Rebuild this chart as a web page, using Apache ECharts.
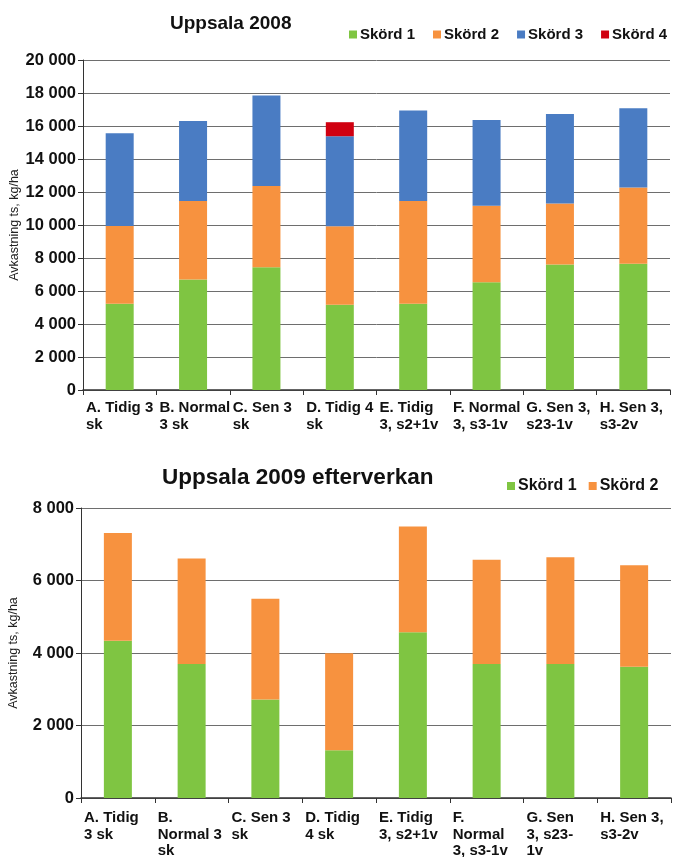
<!DOCTYPE html>
<html>
<head>
<meta charset="utf-8">
<title>Uppsala 2008 / 2009</title>
<script src="https://cdn.jsdelivr.net/npm/echarts@6/dist/echarts.min.js"></script>
<style>
  html, body { margin: 0; padding: 0; background: #ffffff; }
  #chart { width: 675px; height: 857px; }
</style>
</head>
<body>
<div id="chart"></div>
<script>
// Avkastning, kg ts/ha, per skörd och behandling

const categories2008 = [
  'A. Tidig 3\nsk', 'B. Normal\n3 sk', 'C. Sen 3\nsk', 'D. Tidig 4\nsk',
  'E. Tidig\n3, s2+1v', 'F. Normal\n3, s3-1v', 'G. Sen 3,\ns23-1v', 'H. Sen 3,\ns3-2v'
];
const skord1_2008 = [5230, 6690, 7440, 5170, 5230, 6530, 7610, 7650];
const skord2_2008 = [4710, 4770, 4930, 4750, 6230, 4630, 3690, 4620];
const skord3_2008 = [5620, 4850, 5480, 5460, 5480, 5210, 5430, 4810];
const skord4_2008 = [0, 0, 0, 850, 0, 0, 0, 0];
const ticks2008 = [0, 2000, 4000, 6000, 8000, 10000, 12000, 14000, 16000, 18000, 20000];

const categories2009 = [
  'A. Tidig\n3 sk', 'B.\nNormal 3\nsk', 'C. Sen 3\nsk', 'D. Tidig\n4 sk',
  'E. Tidig\n3, s2+1v', 'F.\nNormal\n3, s3-1v', 'G. Sen\n3, s23-\n1v', 'H. Sen 3,\ns3-2v'
];
const skord1_2009 = [4340, 3700, 2720, 1320, 4570, 3700, 3700, 3620];
const skord2_2009 = [2970, 2910, 2780, 2670, 2920, 2870, 2940, 2800];
const ticks2009 = [0, 2000, 4000, 6000, 8000];

const FONT = '"Liberation Sans", Arial, sans-serif';
const COLORS = { s1: '#7fc542', s2: '#f7923f', s3: '#4a7cc3', s4: '#d00010' };

const fmt = v => {
  const s = String(Math.round(v));
  return s.replace(/\B(?=(\d{3})+(?!\d))/g, ' ');
};

function valueAxis(gridIndex, ticks, nameGap) {
  return {
    type: 'value',
    gridIndex: gridIndex,
    min: ticks[0],
    max: ticks[ticks.length - 1],
    interval: ticks[1] - ticks[0],
    name: 'Avkastning ts, kg/ha',
    nameLocation: 'middle',
    nameGap: nameGap,
    nameMoveOverlap: false,
    nameTextStyle: { fontFamily: FONT, fontSize: 12.5, color: '#222' },
    axisLine: { show: true, lineStyle: { color: '#333', width: 1 } },
    axisTick: { show: true, length: 5, lineStyle: { color: '#333' } },
    axisLabel: {
      fontFamily: FONT, fontSize: 16.5, fontWeight: 'bold', color: '#111',
      margin: 7, formatter: fmt
    },
    splitLine: { show: true, lineStyle: { color: '#6e6e6e', width: 1 } }
  };
}

function barAxis(gridIndex, cats) {
  return {
    type: 'category',
    gridIndex: gridIndex,
    data: cats,
    boundaryGap: true,
    axisLine: { show: true, lineStyle: { color: '#333', width: 1.5 } },
    axisTick: { show: true, length: 5, interval: 0, lineStyle: { color: '#333' } },
    axisLabel: { show: false },
    splitLine: { show: false }
  };
}

// Second category axis whose ticks sit on the category boundaries,
// so the wrapped labels start at the left edge of each category.
function labelAxis(gridIndex, cats, margin) {
  return {
    type: 'category',
    gridIndex: gridIndex,
    data: cats.concat(['']),
    boundaryGap: false,
    position: 'bottom',
    axisLine: { show: false },
    axisTick: { show: false },
    splitLine: { show: false },
    axisPointer: { show: false },
    axisLabel: {
      interval: 0, align: 'left', verticalAlign: 'top', margin: margin,
      padding: [0, 0, 0, 3],
      fontFamily: FONT, fontSize: 15, fontWeight: 'bold', color: '#111',
      lineHeight: 16.5
    }
  };
}

function bar(name, data, xi, yi, color, stack) {
  return {
    name: name, type: 'bar', stack: stack,
    xAxisIndex: xi, yAxisIndex: yi,
    data: data, barWidth: 28,
    itemStyle: { color: color },
    emphasis: { disabled: true }
  };
}

const legendText = size => ({ fontFamily: FONT, fontSize: size, fontWeight: 'bold', color: '#111', padding: [0, 0, 0, -2] });

const chart = echarts.init(document.getElementById('chart'), null, { renderer: 'canvas' });

chart.setOption({
  animation: false,
  backgroundColor: '#ffffff',
  title: [
    {
      text: 'Uppsala 2008', left: 165, top: 9,
      textStyle: { fontFamily: FONT, fontSize: 19, fontWeight: 'bold', color: '#111' }
    },
    {
      text: 'Uppsala 2009 efterverkan', left: 157, top: 461,
      textStyle: { fontFamily: FONT, fontSize: 22.5, fontWeight: 'bold', color: '#111' }
    }
  ],
  legend: [
    {
      data: ['Skörd 1', 'Skörd 2', 'Skörd 3', 'Skörd 4'],
      left: 344, top: 22, itemWidth: 8, itemHeight: 8, itemGap: 18,
      icon: 'rect', textStyle: legendText(15), selectedMode: false
    },
    {
      data: ['Skörd 1', 'Skörd 2'],
      left: 502, top: 473, itemWidth: 8, itemHeight: 8, itemGap: 12,
      icon: 'rect', textStyle: legendText(16), selectedMode: false
    }
  ],
  grid: [
    { left: 83, right: 5, top: 60, height: 330, outerBoundsMode: 'none' },
    { left: 81, right: 4, top: 508, height: 290, outerBoundsMode: 'none' }
  ],
  xAxis: [
    barAxis(0, categories2008),
    barAxis(1, categories2009),
    labelAxis(0, categories2008, 10),
    labelAxis(1, categories2009, 12)
  ],
  yAxis: [
    valueAxis(0, ticks2008, 62),
    valueAxis(1, ticks2009, 61)
  ],
  series: [
    bar('Skörd 1', skord1_2008, 0, 0, COLORS.s1, 'y2008'),
    bar('Skörd 2', skord2_2008, 0, 0, COLORS.s2, 'y2008'),
    bar('Skörd 3', skord3_2008, 0, 0, COLORS.s3, 'y2008'),
    bar('Skörd 4', skord4_2008, 0, 0, COLORS.s4, 'y2008'),
    bar('Skörd 1', skord1_2009, 1, 1, COLORS.s1, 'y2009'),
    bar('Skörd 2', skord2_2009, 1, 1, COLORS.s2, 'y2009')
  ]
});
</script>
</body>
</html>
